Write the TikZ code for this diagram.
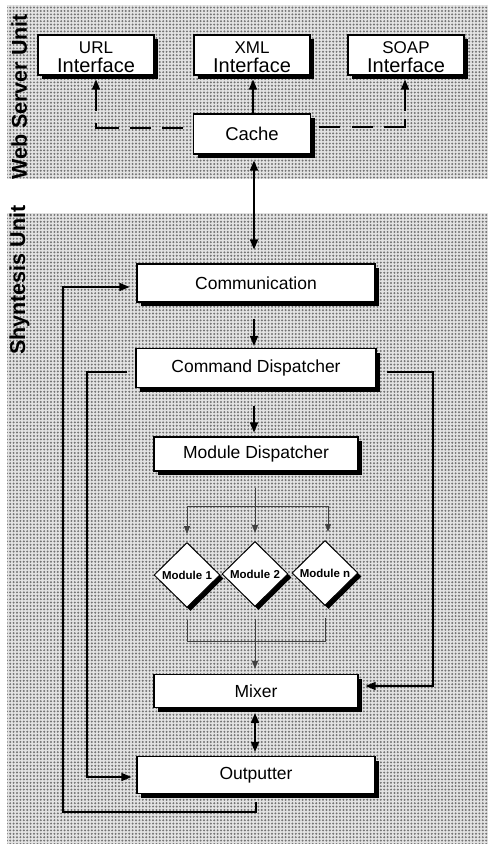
\documentclass[tikz,border=0pt]{standalone}
\usepackage{fontspec}
\setmainfont{Liberation Sans}
\usetikzlibrary{shapes.geometric,arrows.meta,patterns.meta,shadows}
\begin{document}
\begin{tikzpicture}[x=1pt,y=-1pt,
  panelbase/.style={fill=gray!22},
  paneldots/.style={pattern={Dots[distance=3.4pt,radius=1.1pt]}, pattern color=black!55},
  box/.style={draw=black, line width=1.1pt, fill=white, inner sep=0pt,
    drop shadow={shadow xshift=4pt, shadow yshift=-4pt, fill=black, opacity=1},
    font=\fontsize{17.5}{18}\selectfont},
  ibox/.style={box, minimum width=116pt, minimum height=40pt, align=center,
    font=\fontsize{20}{19}\selectfont},
  dia/.style={diamond, draw=black, line width=1pt, fill=white, inner sep=0pt,
    minimum width=66pt, minimum height=65pt,
    drop shadow={shadow xshift=3.5pt, shadow yshift=-3.5pt, fill=black, opacity=1},
    font=\bfseries\fontsize{11.5}{12}\selectfont},
  sidelabel/.style={rotate=90, anchor=base west, inner sep=0pt,
    font=\bfseries\fontsize{21.5}{22}\selectfont},
  arr/.style={line width=1.4pt, -{Triangle[length=10pt,width=8pt]}},
  darr/.style={line width=1.6pt, {Triangle[length=10pt,width=8pt]}-{Triangle[length=10pt,width=8pt]}},
  fine/.style={line width=0.8pt, draw=black!75},
  finearr/.style={fine, -{Triangle[length=8pt,width=6pt]}}
]
\useasboundingbox (0,0) rectangle (488,844);

% panels
\fill[panelbase] (7,5) rectangle (488,179);
\fill[paneldots] (7,5) rectangle (488,179);
\fill[panelbase] (7,213) rectangle (488,844);
\fill[paneldots] (7,213) rectangle (488,844);

\node[sidelabel] (wsu) at (27,180) {Web Server Unit};
\node[sidelabel] (su) at (25,355) {Shyntesis Unit};

% web server unit
\node[ibox] (url) at (96,55) {{\fontsize{17}{19}\selectfont\rule{0pt}{17pt}URL}\\Interface};
\node[ibox] (xml) at (252,55) {{\fontsize{17}{19}\selectfont\rule{0pt}{17pt}XML}\\Interface};
\node[ibox] (soap) at (406,55) {{\fontsize{17}{19}\selectfont\rule{0pt}{17pt}SOAP}\\Interface};
\node[box, minimum width=117pt, minimum height=40pt, font=\fontsize{18.5}{19}\selectfont] (cache) at (252,134) {Cache};

% synthesis unit
\node[box, minimum width=238pt, minimum height=38pt] (comm) at (256,283) {Communication};
\node[box, minimum width=240pt, minimum height=39pt] (cmd) at (256,368) {Command Dispatcher};
\node[box, minimum width=204pt, minimum height=34pt] (mod) at (256,454) {Module Dispatcher};
\node[dia] (m1) at (187,575) {Module 1};
\node[dia] (m2) at (255,574) {Module 2};
\node[dia] (mn) at (325,573) {Module n};
\node[box, minimum width=204pt, minimum height=33pt] (mixer) at (256,691) {Mixer};
\node[box, minimum width=238pt, minimum height=37pt] (out) at (256,775) {Outputter};

\coordinate (split) at (255,506);
\coordinate (join) at (255,641);
\coordinate (rc) at (433,500);
\coordinate (lc) at (87,500);
\coordinate (lb) at (63,812);

% web connectors
\draw[arr, dash pattern=on 21pt off 11pt on 21pt off 11pt on 28pt off 12pt on 80pt,
  shorten <=10pt, shorten >=4pt] ([yshift=6pt]cache.west) -| (url.south);
\draw[arr, dash pattern=on 21pt off 12pt on 21pt off 11pt on 29pt off 8pt on 80pt,
  shorten <=8pt, shorten >=4pt] ([yshift=7pt]cache.east) -| ([xshift=-1pt]soap.south);
\draw[arr, shorten >=4pt] ([xshift=1pt]cache.north) -- ([xshift=1pt]xml.south);
\draw[darr, shorten <=6pt, shorten >=14pt] ([xshift=2pt]cache.south) -- ([xshift=-2pt]comm.north);

% stack connectors
\draw[arr, shorten <=16pt, shorten >=2pt] ([xshift=-2pt]comm.south) -- ([xshift=-2pt]cmd.north);
\draw[arr, shorten <=18pt, shorten >=4pt] ([xshift=-2pt]cmd.south) -- ([xshift=-2pt]mod.north);
\draw[fine, shorten <=16pt] ([xshift=-1pt]mod.south) -- (split);
\draw[finearr, shorten >=8pt] (split) -| (m1.north);
\draw[finearr, shorten >=8pt] (split) -- (m2.north);
\draw[finearr, shorten >=8pt] (split) -| ([xshift=3pt]mn.north);
\draw[fine, shorten <=12pt] (m1.south) |- (join);
\draw[fine, shorten <=12pt] (mn.south) |- (join);
\draw[finearr, shorten <=12pt, shorten >=5pt] (m2.south) -- ([xshift=-1pt]mixer.north);
\draw[darr, line width=1.8pt, shorten <=5pt, shorten >=4pt] ([xshift=-1pt]mixer.south) -- ([xshift=-1pt]out.north);

% loops
\draw[arr, shorten <=10pt, shorten >=7pt] ([yshift=-4pt]cmd.east) -| (rc) |- ([yshift=5pt]mixer.east);
\draw[arr, shorten <=8pt, shorten >=5pt] ([yshift=-4pt]cmd.west) -| (lc) |- ([yshift=-2pt]out.west);
\draw[arr, shorten <=8pt, shorten >=7pt] (out.south) |- (lb) |- ([yshift=-4pt]comm.west);
\end{tikzpicture}
\end{document}
